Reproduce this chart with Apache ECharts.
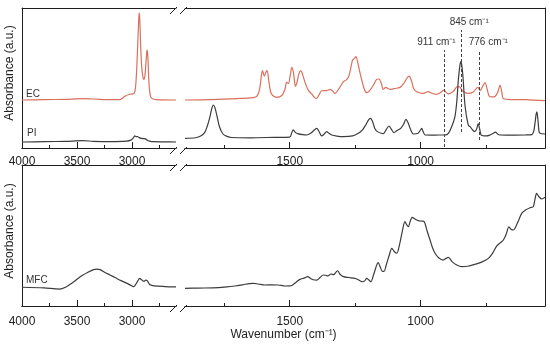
<!DOCTYPE html>
<html><head><meta charset="utf-8">
<script src="https://cdn.jsdelivr.net/npm/echarts@6/dist/echarts.min.js"></script>
<style>html,body{margin:0;padding:0;background:#fff}#c{width:550px;height:344px}</style>
</head><body><div id="c"></div>
<script>
// ---- data (wavenumber cm-1, absorbance a.u. 0..100 per panel) ----
const ecHigh = [[4000,34.3],[3800,34.5],[3600,34.8],[3450,35.2],[3350,35],[3200,34.5],[3110,34.5],[3065,37],[3020,38.4],[2990,38.6],[2975,40],[2965,46],[2955,60],[2945,80],[2938,93],[2934,96.5],[2929,91],[2922,75],[2912,58],[2900,50.5],[2891,49],[2882,52],[2872,62],[2865,69],[2861,70],[2855,64],[2848,50],[2840,41],[2830,36.5],[2815,35.2],[2780,34.6],[2600,34.3]];
const piHigh = [[4000,4.3],[3800,4.5],[3600,4.8],[3450,5.2],[3350,4.8],[3200,4.6],[3050,4.9],[3010,5.6],[2990,7],[2975,8.6],[2962,8.1],[2950,8.2],[2935,7.4],[2915,6.9],[2895,6.7],[2878,6.5],[2862,5.6],[2840,4.9],[2810,4.5],[2700,4.4],[2600,4.3]];
const ecLow = [[1900,34.3],[1800,34.6],[1700,35.3],[1640,36],[1625,37],[1615,42],[1608,52],[1604,55.2],[1597,51.4],[1590,54.5],[1586,55.2],[1580,48],[1573,40],[1565,37.5],[1550,36.2],[1530,37.5],[1518,42],[1512,47],[1505,46],[1498,52],[1492,57.6],[1486,54],[1478,44],[1472,47],[1465,53],[1458,55.2],[1450,52],[1440,46],[1428,41],[1416,38.6],[1405,36],[1397,35.5],[1388,38],[1378,40.9],[1360,41],[1346,41.9],[1335,40.5],[1327,39],[1310,43],[1295,47.4],[1285,48.5],[1276,50.5],[1268,56],[1260,62.9],[1253,64],[1247,65.2],[1240,61],[1232,54],[1225,48.6],[1215,42],[1206,39.5],[1195,41],[1180,45],[1168,49],[1159,49.3],[1150,46],[1143,41.9],[1133,43.3],[1125,42.5],[1117,41.9],[1100,42.5],[1079,43.3],[1065,46],[1052,50],[1044,51.4],[1035,48],[1028,43],[1021,41],[1005,39.5],[990,39],[971,40.2],[955,39],[939,38.3],[925,39.5],[911,41.4],[900,39.2],[894,38.6],[875,40.5],[860,43.8],[850,43.5],[838,40.5],[820,39],[800,39.8],[782,43.3],[772,41],[763,44],[754,46.7],[746,42],[738,37.1],[725,36.5],[716,36.8],[705,40],[697,45],[690,40],[685,35.5],[670,34.8],[600,34.5],[525,33.8]];
const piLow = [[1900,6.9],[1860,7.3],[1840,8.5],[1825,11],[1815,15.5],[1805,22],[1798,28],[1792,30.7],[1786,29],[1778,23],[1768,15],[1755,10],[1740,8.3],[1722,7.5],[1650,7.3],[1560,7.6],[1500,7.8],[1492,11],[1486,12.9],[1478,11],[1470,10.3],[1450,9.5],[1435,9.3],[1420,10.5],[1405,13],[1397,14],[1390,12.5],[1378,8.6],[1368,10],[1359,11.7],[1350,10.5],[1340,9.3],[1320,8.5],[1295,8.1],[1260,8.6],[1238,10.5],[1222,13],[1208,17],[1198,20.3],[1191,21.2],[1183,18.5],[1175,14],[1165,11.7],[1150,10.5],[1142,10.3],[1132,13],[1121,15.7],[1112,13.5],[1102,11],[1090,12.5],[1076,14],[1065,17],[1056,20.5],[1048,18],[1038,13],[1028,10],[1010,10.5],[1002,12.5],[996,14],[990,11.5],[983,9.3],[960,9.2],[930,9.3],[907,9.3],[894,10.5],[879,16.4],[869,22.4],[862,33],[856,48.6],[850,59],[846,61.7],[842,58],[838,50],[830,29.5],[818,16.4],[811,15.2],[804,13.5],[795,11.7],[787,13],[780,17.4],[775,14],[769,9.3],[758,8.7],[748,8.6],[735,9.3],[722,10.5],[714,11.3],[706,10],[697,9.3],[660,9.2],[600,9.3],[575,9.6],[568,12],[563,18],[559,24],[556,25.8],[552,20],[548,12],[544,10.5],[525,10]];
const mfcHigh = [[4000,13.3],[3800,12.8],[3660,12.0],[3600,13.5],[3550,16],[3500,19],[3450,21.8],[3400,24],[3350,25.8],[3320,26.2],[3290,25.8],[3250,24],[3200,22],[3150,20],[3100,18],[3050,16.2],[3000,14.2],[2985,13.7],[2970,14.8],[2950,17.5],[2930,19.6],[2915,18.8],[2900,17.8],[2890,17.6],[2875,18.3],[2862,18],[2850,16.5],[2835,15],[2800,14.3],[2700,13.8],[2600,13.5]];
const mfcLow = [[1900,12.5],[1850,12.7],[1773,13],[1740,13.5],[1709,14.2],[1680,15],[1655,15.9],[1639,16.1],[1620,15.6],[1594,14.9],[1570,15],[1544,14.9],[1518,14.2],[1500,14.3],[1492,14.6],[1478,16.5],[1461,18.9],[1445,19.8],[1431,20.8],[1420,19.5],[1410,18.6],[1397,18.4],[1385,20],[1372,22],[1362,21.8],[1355,21.3],[1342,22.7],[1333,22.2],[1325,23.5],[1317,25],[1308,22.5],[1295,20.8],[1275,20.2],[1251,19.6],[1240,18.8],[1232,17.9],[1222,17.2],[1213,18],[1206,19.6],[1198,18.5],[1190,17.2],[1180,22],[1168,29],[1162,30.7],[1155,28],[1146,24.5],[1140,24.5],[1130,30],[1120,36],[1110,40.9],[1100,38.5],[1091,37.4],[1080,44],[1070,53],[1060,59.8],[1053,57.5],[1047,56.2],[1040,60],[1032,62.9],[1020,61.5],[1009,60.5],[995,60.2],[986,59.8],[975,53],[964,46.8],[955,41.5],[945,37.4],[930,34],[914,32.6],[903,33.8],[894,34.5],[880,31.5],[862,29.1],[843,27.9],[820,28.2],[792,29.6],[765,31.3],[741,33.8],[725,37.5],[709,42.6],[696,44.8],[684,46.8],[673,51],[663,56.2],[655,54.5],[646,53.9],[630,59],[614,65.7],[598,68.2],[582,69.7],[570,70.4],[563,76],[557,79.9],[548,77.5],[537,75.9],[525,77.1]];
const highRange = [2600, 4000];
const lowRange = [525, 1900];
const highMajor = [4000, 3500, 3000];
const highMinor = [3750, 3250, 2750];
const lowMajor = [1500, 1000];
const lowMinor = [1750, 1250, 750];
const bandMarks = [911, 845, 776];

const FONT = 'Liberation Sans, Arial, sans-serif';
const AX = '#1e1e1e';
const EC_COLOR = '#d9705d';
const GREY = '#3c3c3c';

const panels = [
  {top: 8, height: 140, labelMargin: 8},
  {top: 165, height: 141, labelMargin: 10}
];
const segs = [
  {left: 22, width: 154, range: highRange, major: highMajor, minor: highMinor, ypos: 'left'},
  {left: 185, width: 360, range: lowRange, major: lowMajor, minor: lowMinor, ypos: 'right'}
];

const grid = [], xAxis = [], yAxis = [];
// main grids 0..3
panels.forEach(p => segs.forEach(s => {
  const gi = grid.length;
  grid.push({left: s.left, width: s.width, top: p.top, height: p.height, show: false});
  xAxis.push({type: 'value', gridIndex: gi, position: 'bottom', inverse: true,
    min: s.range[0], max: s.range[1],
    axisLine: {show: true, onZero: false, lineStyle: {color: AX, width: 1}},
    axisTick: {show: true, inside: true, length: 6, customValues: s.major, lineStyle: {color: AX}},
    axisLabel: {show: true, customValues: s.major, margin: p.labelMargin, fontFamily: FONT, fontSize: 12, color: '#222',
      formatter: v => String(v)},
    splitLine: {show: false}});
  xAxis.push({type: 'value', gridIndex: gi, position: 'top', inverse: true,
    min: s.range[0], max: s.range[1],
    axisLine: {show: true, onZero: false, lineStyle: {color: AX, width: 1}},
    axisTick: {show: false}, axisLabel: {show: false}, splitLine: {show: false}});
  yAxis.push({type: 'value', gridIndex: gi, position: s.ypos, min: 0, max: 100,
    axisLine: {show: true, onZero: false, lineStyle: {color: AX, width: 1}},
    axisTick: {show: false}, axisLabel: {show: false}, splitLine: {show: false}});
}));
// overlay grids 4..7 for minor ticks
panels.forEach(p => segs.forEach(s => {
  const gi = grid.length;
  grid.push({left: s.left, width: s.width, top: p.top, height: p.height, show: false});
  xAxis.push({type: 'value', gridIndex: gi, position: 'bottom', inverse: true,
    min: s.range[0], max: s.range[1],
    axisLine: {show: true, onZero: false, lineStyle: {color: AX, width: 1}},
    axisTick: {show: true, inside: true, length: 3, customValues: s.minor, lineStyle: {color: AX}},
    axisLabel: {show: false}, splitLine: {show: false}});
  yAxis.push({type: 'value', gridIndex: gi, min: 0, max: 100,
    axisLine: {show: false}, axisTick: {show: false}, axisLabel: {show: false}, splitLine: {show: false}});
}));

function line(name, data, xi, yi, color, extra) {
  return Object.assign({name, type: 'line', data, xAxisIndex: xi, yAxisIndex: yi,
    showSymbol: false, smooth: 0.3, silent: true,
    lineStyle: {color, width: 1.2}, itemStyle: {color}}, extra || {});
}

const markTops = {911: 70, 845: 84.3, 776: 70};
const markBottoms = {911: 0.7, 845: 11.4, 776: 5.7};
const markPad = {911: [0, 15, 0, 0], 845: [0, 0, 0, 16], 776: [0, 0, 0, 18]};

const series = [
  line('EC', ecHigh, 0, 0, EC_COLOR),
  line('PI', piHigh, 0, 0, GREY),
  line('EC', ecLow, 2, 1, EC_COLOR),
  line('PI', piLow, 2, 1, GREY, {
    markLine: {silent: true, symbol: 'none', animation: false,
      lineStyle: {type: [3, 2], color: '#444', width: 1},
      label: {show: true, position: 'end', distance: 3, fontFamily: FONT, fontSize: 10, color: '#333'},
      data: bandMarks.map(w => [
        {coord: [w, markBottoms[w]], label: {formatter: w + ' cm\u207B\u00B9', padding: markPad[w]}},
        {coord: [w, markTops[w]]}
      ])}
  }),
  line('MFC', mfcHigh, 4, 2, GREY),
  line('MFC', mfcLow, 6, 3, GREY),
  // empty series on overlay grids so their axes are laid out
  {type: 'line', data: [], xAxisIndex: 8, yAxisIndex: 4, silent: true},
  {type: 'line', data: [], xAxisIndex: 9, yAxisIndex: 5, silent: true},
  {type: 'line', data: [], xAxisIndex: 10, yAxisIndex: 6, silent: true},
  {type: 'line', data: [], xAxisIndex: 11, yAxisIndex: 7, silent: true}
];

function slash(x, y) {
  return {type: 'line', shape: {x1: x, y1: y + 6, x2: x + 7, y2: y - 1}, style: {stroke: AX, lineWidth: 1}, silent: true};
}
const graphic = [];
[8, 148, 165, 306].forEach(y => { graphic.push(slash(170, y)); graphic.push(slash(180, y)); });
const txt = (t, x, y, size) => ({type: 'text', x, y, silent: true,
  style: {text: t, fontFamily: FONT, fontSize: size, fill: '#333', align: 'left', verticalAlign: 'middle'}});
graphic.push(txt('EC', 26, 94, 10));
graphic.push(txt('PI', 27, 133, 10));
graphic.push(txt('MFC', 26, 280, 10));
graphic.push({type: 'text', x: 10, y: 73, rotation: Math.PI / 2, silent: true,
  style: {text: 'Absorbance (a.u.)', fontFamily: FONT, fontSize: 12, fill: '#222', align: 'center', verticalAlign: 'middle'}});
graphic.push({type: 'text', x: 10, y: 231, rotation: Math.PI / 2, silent: true,
  style: {text: 'Absorbance (a.u.)', fontFamily: FONT, fontSize: 12, fill: '#222', align: 'center', verticalAlign: 'middle'}});
graphic.push({type: 'text', x: 283.5, y: 335, silent: true,
  style: {text: 'Wavenumber (cm\u207B\u00B9)', fontFamily: FONT, fontSize: 12, fill: '#222', align: 'center', verticalAlign: 'middle'}});

const chart = echarts.init(document.getElementById('c'), null, {renderer: 'canvas'});
chart.setOption({animation: false, backgroundColor: '#fff', grid, xAxis, yAxis, series, graphic});
</script></body></html>
